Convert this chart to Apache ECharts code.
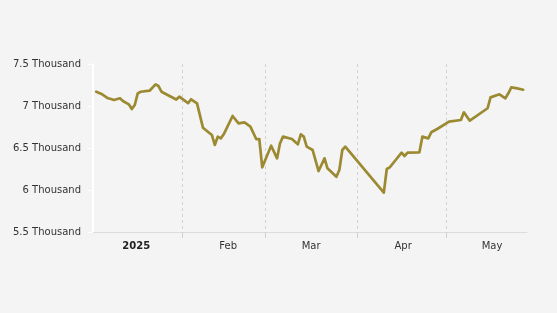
<!DOCTYPE html>
<html>
<head>
<meta charset="utf-8">
<script src="https://cdn.jsdelivr.net/npm/echarts@6/dist/echarts.min.js"></script>
<style>
html,body{margin:0;padding:0;background:#f4f4f4;}
#c{width:557px;height:313px;}
</style>
</head>
<body>
<div id="c"></div>
<script>
var dates = [
 '2025-01-03','2025-01-05','2025-01-07','2025-01-08','2025-01-09','2025-01-11','2025-01-12','2025-01-14','2025-01-15','2025-01-16',
 '2025-01-17','2025-01-18','2025-01-21','2025-01-23','2025-01-24','2025-01-25','2025-01-30','2025-01-31',
 '2025-02-03','2025-02-04','2025-02-06','2025-02-08','2025-02-11','2025-02-12','2025-02-13','2025-02-14','2025-02-15',
 '2025-02-18','2025-02-20','2025-02-22','2025-02-24','2025-02-26','2025-02-27','2025-02-28',
 '2025-03-03','2025-03-05','2025-03-06','2025-03-07','2025-03-10','2025-03-12','2025-03-13','2025-03-14','2025-03-15',
 '2025-03-17','2025-03-19','2025-03-21','2025-03-22','2025-03-25','2025-03-26','2025-03-27','2025-03-28',
 '2025-04-10','2025-04-11','2025-04-12','2025-04-14','2025-04-16','2025-04-17','2025-04-18','2025-04-22','2025-04-23',
 '2025-04-25','2025-04-26','2025-04-28',
 '2025-05-02','2025-05-06','2025-05-07','2025-05-09','2025-05-15','2025-05-16','2025-05-19','2025-05-21','2025-05-22',
 '2025-05-23','2025-05-25','2025-05-27'
];
var values = [
 7170,7139,7092,7083,7071,7092,7060,7020,6964,7012,
 7151,7170,7182,7258,7238,7170,7077,7111,
 7035,7080,7032,6742,6655,6536,6635,6615,6663,
 6881,6794,6806,6754,6604,6607,6270,
 6527,6377,6556,6635,6607,6544,6663,6635,6516,
 6476,6226,6377,6258,6158,6238,6476,6516,
 5968,6250,6270,6357,6444,6405,6444,6449,6635,
 6615,6687,6726,
 6813,6833,6925,6825,6973,7103,7139,7092,7151,
 7222,7210,7194
];
var monthLabels = ['2025','Feb','Mar','Apr','May'];
var monthStarts = ['2025-02-01','2025-03-01','2025-04-01','2025-05-01'];
var labelDays = ['2025-01-16','2025-02-16','2025-03-16','2025-04-16','2025-05-16'];

function toTs(s, h){ var p = s.split('-'); return Date.UTC(+p[0], +p[1]-1, +p[2], h||0); }

var seriesData = dates.map(function(d,i){ return [toTs(d), values[i]]; });
var labelTs = labelDays.map(function(d){ return toTs(d, 12); });
var tickTs = monthStarts.map(function(d){ return toTs(d); });

var FONT = 'DejaVu Sans';
var chart = echarts.init(document.getElementById('c'), null, {renderer:'canvas'});
chart.setOption({
  backgroundColor: '#f4f4f4',
  animation: false,
  grid: {left: 93, right: 30, top: 64, bottom: 81},
  xAxis: [{
    type: 'value',
    scale: true,
    min: toTs('2025-01-01', 22),
    max: toTs('2025-05-28', 7),
    axisLine: {show: true, lineStyle: {color: '#dcdcdc', width: 1}},
    axisTick: {show: true, length: 6, lineStyle: {color: '#cfcfcf'}, customValues: tickTs},
    splitLine: {show: true, lineStyle: {color: '#d2d2d2', type: [3,3], width: 1}},
    axisLabel: {
      show: true,
      customValues: labelTs,
      margin: 9,
      fontFamily: FONT, fontSize: 10, color: '#333',
      formatter: function(v){
        var m = new Date(v).getUTCMonth();
        return m === 0 ? '{b|' + monthLabels[0] + '}' : monthLabels[m];
      },
      rich: {b: {fontFamily: FONT, fontSize: 10, fontWeight: 'bold', color: '#222'}}
    }
  }],
  yAxis: {
    type: 'value',
    min: 5500, max: 7500, interval: 500,
    axisLine: {show: true, lineStyle: {color: '#ffffff', width: 2}},
    axisTick: {show: true, length: 5, lineStyle: {color: '#ffffff', width: 1}},
    splitLine: {show: false},
    axisLabel: {
      margin: 12, fontFamily: FONT, fontSize: 10, color: '#333',
      formatter: function(v){ return (v/1000) + ' Thousand'; }
    }
  },
  series: [{
    type: 'line',
    data: seriesData,
    showSymbol: false,
    symbol: 'none',
    lineStyle: {color: '#9c8a33', width: 2.7, join: 'round', cap: 'round'},
    itemStyle: {color: '#9c8a33'}
  }]
});
</script>
</body>
</html>
